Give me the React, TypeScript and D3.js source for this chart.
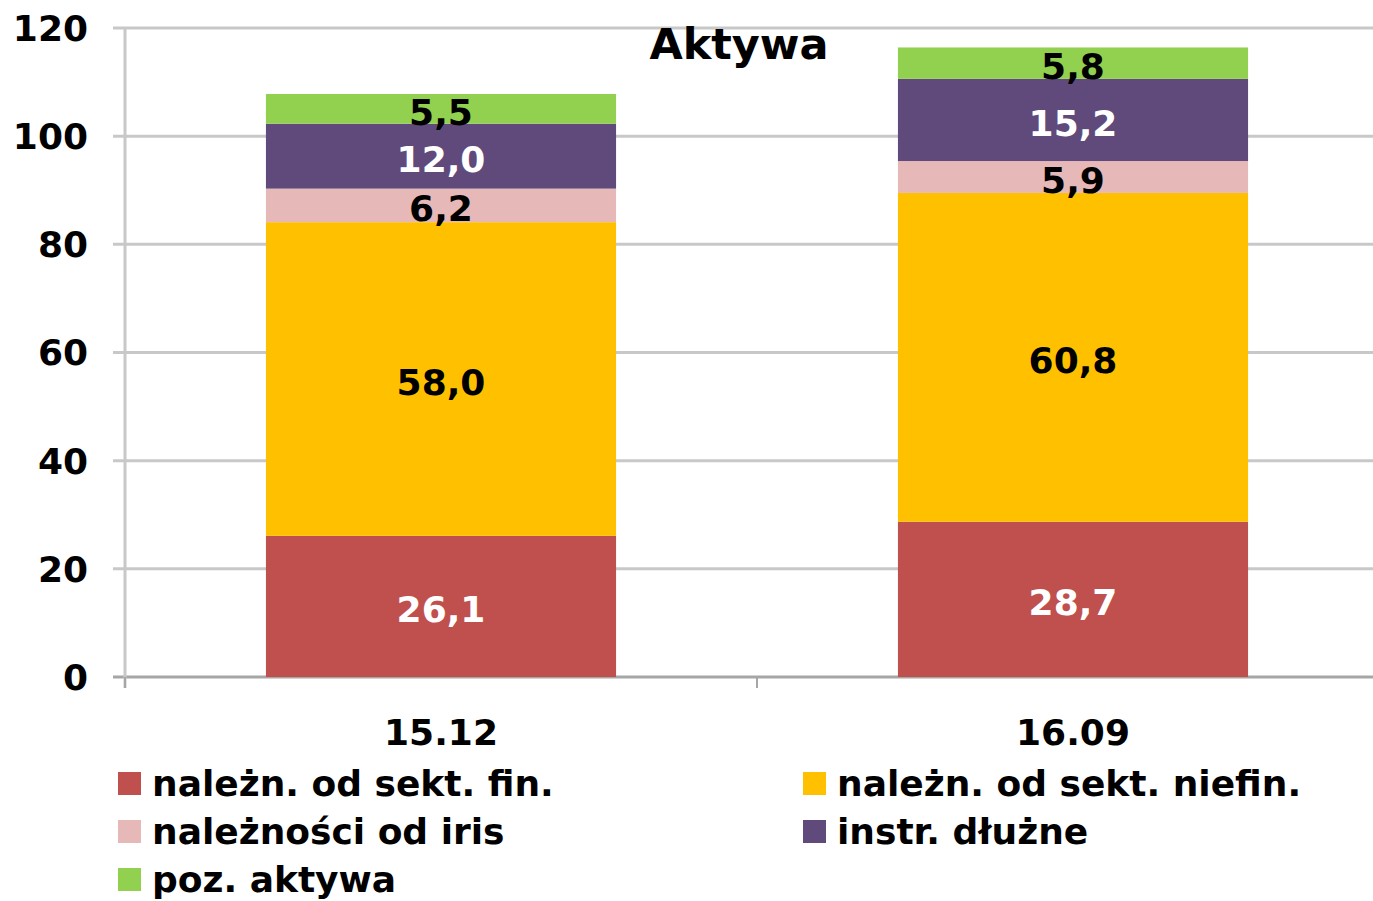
import React from "react";
import * as d3 from "d3";

const categories = ["15.12", "16.09"];
const seriesNames = [
  "należn. od sekt. fin.",
  "należn. od sekt. niefin.",
  "należności od iris",
  "instr. dłużne",
  "poz. aktywa",
];
const finValues = [26.1, 28.7];
const niefinValues = [58.0, 60.8];
const irisValues = [6.2, 5.9];
const dluzneValues = [12.0, 15.2];
const pozValues = [5.5, 5.8];
const yTicks = [0, 20, 40, 60, 80, 100, 120];
const title = "Aktywa";

const colors = ["#C0504D", "#FFC000", "#E6B9B8", "#604A7B", "#92D050"];
const labelColors = ["#FFFFFF", "#000000", "#000000", "#FFFFFF", "#000000"];

const W = 1373;
const H = 901;
const FONT = "'DejaVu Sans', Verdana, sans-serif";

export default function App() {
  const series = [finValues, niefinValues, irisValues, dluzneValues, pozValues];
  const rows = categories.map((c, i) => {
    const r: any = { cat: c };
    seriesNames.forEach((n, j) => (r[n] = series[j][i]));
    return r;
  });
  const stacked = d3.stack<any>().keys(seriesNames)(rows);

  const x = d3
    .scaleBand<string>()
    .domain(categories)
    .range([125, 1389])
    .paddingInner(0.446)
    .paddingOuter(0.223);
  const y = d3.scaleLinear().domain([0, 120]).range([677, 28]);

  const fmt = (v: number) => v.toFixed(1).replace(".", ",");

  const legendPos = [
    { x: 118, y: 772 },
    { x: 803, y: 772 },
    { x: 118, y: 820 },
    { x: 803, y: 820 },
    { x: 118, y: 868 },
  ];

  return (
    <div style={{ position: "absolute", left: 0, top: 0 }}>
      <svg width={W} height={H} style={{ display: "block", background: "#fff" }} fontFamily={FONT} fontWeight="bold">
        {yTicks.map((t) => (
          <line key={"g" + t} x1={113} x2={W} y1={y(t)} y2={y(t)} stroke={t === 0 ? "#A6A6A6" : "#C8C8C8"} strokeWidth={3} />
        ))}
        <line x1={125} x2={125} y1={y(120)} y2={688} stroke="#C8C8C8" strokeWidth={3} />
        {[125, 757].map((xx) => (
          <line key={"xt" + xx} x1={xx} x2={xx} y1={y(0)} y2={688} stroke="#A6A6A6" strokeWidth={2} />
        ))}
        {yTicks.map((t) => (
          <text key={"yl" + t} x={88} y={y(t)} dy="0.36em" textAnchor="end" fontSize={36} fill="#000">
            {t}
          </text>
        ))}
        {stacked.map((s, j) =>
          s.map((d, i) => (
            <rect
              key={"b" + j + "-" + i}
              x={x(categories[i])}
              width={x.bandwidth()}
              y={y(d[1])}
              height={y(d[0]) - y(d[1])}
              fill={colors[j]}
            />
          ))
        )}
        {stacked.map((s, j) =>
          s.map((d, i) => (
            <text
              key={"l" + j + "-" + i}
              x={(x(categories[i]) as number) + x.bandwidth() / 2}
              y={(y(d[0]) + y(d[1])) / 2 + 3}
              dy="0.36em"
              textAnchor="middle"
              fontSize={36}
              fill={labelColors[j]}
            >
              {fmt(d[1] - d[0])}
            </text>
          ))
        )}
        <text x={739} y={59} textAnchor="middle" fontSize={43} fill="#000">
          {title}
        </text>
        {categories.map((c) => (
          <text key={"xl" + c} x={(x(c) as number) + x.bandwidth() / 2} y={745} textAnchor="middle" fontSize={36} fill="#000">
            {c}
          </text>
        ))}
        {seriesNames.map((n, j) => (
          <g key={"lg" + j}>
            <rect x={legendPos[j].x} y={legendPos[j].y} width={23} height={23} fill={colors[j]} />
            <text x={legendPos[j].x + 34} y={legendPos[j].y + 24} fontSize={36} fill="#000">
              {n}
            </text>
          </g>
        ))}
      </svg>
    </div>
  );
}
